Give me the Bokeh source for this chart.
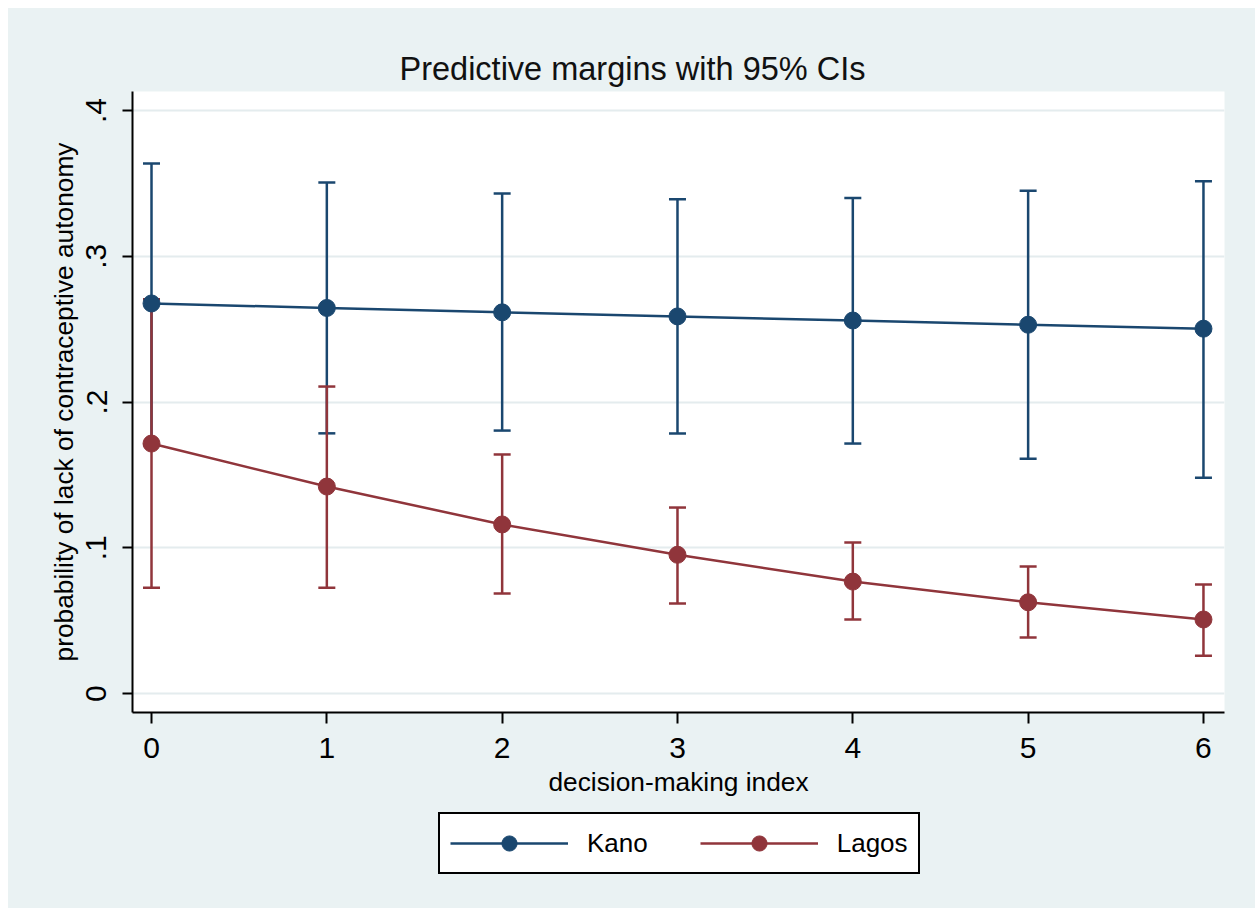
from bokeh.plotting import figure
from bokeh.models import FixedTicker, Legend, LegendItem, ColumnDataSource
from bokeh.layouts import column
from bokeh.embed import file_html
from bokeh.resources import INLINE

# ---- data ----
x_index = [0, 1, 2, 3, 4, 5, 6]
x_tick_labels = ["0", "1", "2", "3", "4", "5", "6"]
y_ticks = [0, 0.1, 0.2, 0.3, 0.4]
y_tick_labels = ["0", ".1", ".2", ".3", ".4"]

kano_margin = [0.2676, 0.2645, 0.2615, 0.2587, 0.2559, 0.2530, 0.2503]
kano_lower = [0.1705, 0.1785, 0.1804, 0.1784, 0.1715, 0.1610, 0.1480]
kano_upper = [0.3636, 0.3506, 0.3430, 0.3390, 0.3400, 0.3450, 0.3515]

lagos_margin = [0.1715, 0.1420, 0.1160, 0.0952, 0.0768, 0.0626, 0.0508]
lagos_lower = [0.0725, 0.0725, 0.0686, 0.0617, 0.0508, 0.0384, 0.0260]
lagos_upper = [0.2705, 0.2106, 0.1640, 0.1276, 0.1036, 0.0871, 0.0748]

series_names = ["Kano", "Lagos"]
title_text = "Predictive margins with 95% CIs"
x_label = "decision-making index"
y_label = "probability of lack of contraceptive autonomy"

NAVY = "#1a476f"
MAROON = "#90353b"
BG = "#eaf2f3"
GRID = "#e4ecee"
FONT = "Liberation Sans"

# ---------------- main plot ----------------
p = figure(width=1247, height=800,
           x_range=(-0.1084, 6.120), y_range=(-0.0130, 0.4130),
           output_backend="svg", toolbar_location=None,
           min_border_left=124, min_border_right=31,
           min_border_top=83, min_border_bottom=96)
p.background_fill_color = "white"
p.border_fill_color = BG
p.outline_line_color = None

p.title.text = title_text
p.title.align = "left"
p.title.text_font = FONT
p.title.text_font_size = "32.5px"
p.title.text_font_style = "normal"
p.title.text_color = "#111111"
p.title.offset = 267
p.title.standoff = 9

xt = FixedTicker(ticks=x_index)
yt = FixedTicker(ticks=y_ticks)
p.xaxis.ticker = xt
p.yaxis.ticker = yt
p.xaxis.major_label_overrides = dict(zip(x_index, x_tick_labels))
p.yaxis.major_label_overrides = dict(zip(y_ticks, y_tick_labels))
p.yaxis.major_label_orientation = "vertical"
p.xaxis.axis_label = x_label
p.yaxis.axis_label = y_label

for ax in (p.xaxis[0], p.yaxis[0]):
    ax.axis_line_color = "black"
    ax.axis_line_width = 2
    ax.major_tick_line_color = "black"
    ax.major_tick_line_width = 2
    ax.major_tick_in = 0
    ax.minor_tick_in = 0
    ax.minor_tick_out = 0
    ax.major_label_text_font = FONT
    ax.major_label_text_font_size = "30px"
    ax.major_label_text_color = "black"
    ax.axis_label_text_font = FONT
    ax.axis_label_text_font_size = "26.3px"
    ax.axis_label_text_font_style = "normal"
    ax.axis_label_text_color = "black"

p.xaxis.major_tick_out = 11
p.yaxis.major_tick_out = 10
p.xaxis.major_label_standoff = 14
p.yaxis.major_label_standoff = 16
p.xaxis.axis_label_standoff = 6
p.yaxis.axis_label_standoff = 5

p.xgrid.grid_line_color = None
p.ygrid.ticker = yt
p.ygrid.grid_line_color = GRID
p.ygrid.grid_line_width = 2

src_k = ColumnDataSource(dict(x=x_index, m=kano_margin, lo=kano_lower, hi=kano_upper))
src_l = ColumnDataSource(dict(x=x_index, m=lagos_margin, lo=lagos_lower, hi=lagos_upper))

# confidence intervals
for src, col in ((src_k, NAVY), (src_l, MAROON)):
    p.segment(x0="x", y0="lo", x1="x", y1="hi", source=src, line_color=col, line_width=2.5)
    p.scatter(x="x", y="lo", source=src, marker="dash", size=17, line_color=col, line_width=2.5)
    p.scatter(x="x", y="hi", source=src, marker="dash", size=17, line_color=col, line_width=2.5)

# connected margins
for src, col in ((src_k, NAVY), (src_l, MAROON)):
    p.line(x="x", y="m", source=src, line_color=col, line_width=2.5)
    p.scatter(x="x", y="m", source=src, marker="circle", size=17,
              fill_color=col, line_color=col, line_width=1)

# ---------------- legend strip below (same background) ----------------
leg = figure(width=1247, height=100, x_range=(0, 1), y_range=(0, 1),
             output_backend="svg", toolbar_location=None,
             x_axis_type=None, y_axis_type=None,
             min_border_left=124, min_border_right=31, min_border_top=0, min_border_bottom=0)
leg.background_fill_color = BG
leg.border_fill_color = BG
leg.outline_line_color = None
leg.xgrid.grid_line_color = None
leg.ygrid.grid_line_color = None

items = []
for col, name in ((NAVY, series_names[0]), (MAROON, series_names[1])):
    ln = leg.line(x=[-5, -4], y=[-5, -5], line_color=col, line_width=2.5)
    sc = leg.scatter(x=[-5], y=[-5], marker="circle", size=17,
                     fill_color=col, line_color=col, line_width=1)
    items.append(LegendItem(label=name, renderers=[ln, sc]))

legend = Legend(items=items, orientation="horizontal", location=(306, 34),
                glyph_width=118, glyph_height=38, label_standoff=19, spacing=52,
                padding=10, margin=0,
                border_line_color="black", border_line_width=2, border_line_alpha=1,
                background_fill_color="white", background_fill_alpha=1,
                label_text_font=FONT, label_text_font_size="26px",
                label_text_color="black")
leg.add_layout(legend, "center")

layout = column(p, leg, spacing=0)
layout.margin = (8, 0, 0, 8)
layout.styles = {"background-color": BG}

open("out.html", "w").write(file_html(layout, INLINE))
